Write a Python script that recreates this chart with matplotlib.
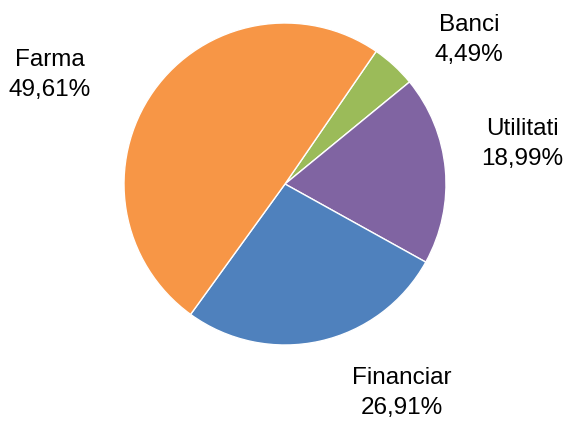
import matplotlib.pyplot as plt

labels = ["Banci", "Utilitati", "Financiar", "Farma"]
values = [4.49, 18.99, 26.91, 49.61]
colors = ["#9BBB59", "#8064A2", "#4F81BD", "#F79646"]
# label anchor positions in pixel-like data units (center of pie at 0,0)
label_pos = [(184, 144), (237, 40), (117, -209), (-235, 109)]

fig = plt.figure(figsize=(5.68, 4.21), dpi=100)
ax = fig.add_axes([0, 0, 1, 1])

ax.pie(values, colors=colors, startangle=55.5, counterclock=False, radius=161,
       wedgeprops={"edgecolor": "white", "linewidth": 1})

for name, v, (x, y) in zip(labels, values, label_pos):
    txt = name + "\n" + f"{v:.2f}".replace(".", ",") + "%"
    ax.text(x, y, txt, ha="center", va="center", fontsize=17.5,
            family="Liberation Sans", linespacing=1.5, color="#000000")

ax.set_xlim(-285, 283)
ax.set_ylim(-237, 184)
ax.set_aspect("equal")
ax.axis("off")

fig.savefig("out.png", dpi=100)
